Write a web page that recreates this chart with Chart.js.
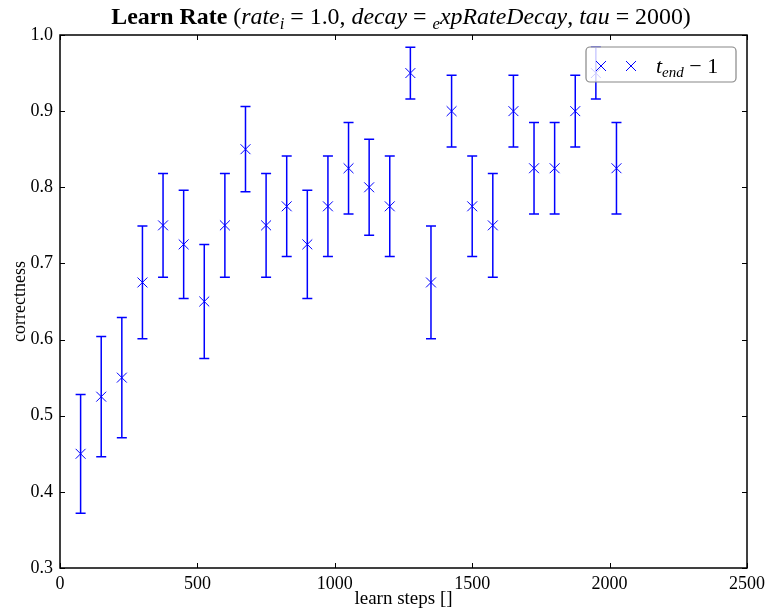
<!DOCTYPE html>
<html>
<head>
<meta charset="utf-8">
<script src="https://cdn.jsdelivr.net/npm/chart.js@4"></script>
<style>body{margin:0;background:#fff}</style>
</head>
<body>
<canvas id="chart" width="765" height="614"></canvas>
<script>
"use strict";

// data
const steps = [75, 150, 225, 300, 375, 450, 525, 600, 675, 750, 825, 900, 975, 1050,
  1125, 1200, 1275, 1350, 1425, 1500, 1575, 1650, 1725, 1800, 1875, 1950, 2025];
const correctness = [0.45, 0.525, 0.55, 0.675, 0.75, 0.725, 0.65, 0.75, 0.85, 0.75, 0.775,
  0.725, 0.775, 0.825, 0.8, 0.775, 0.95, 0.675, 0.9, 0.775, 0.75, 0.9, 0.825, 0.825,
  0.9, 0.95, 0.825];
const errLow = [0.372, 0.446, 0.471, 0.601, 0.682, 0.654, 0.575, 0.682, 0.794, 0.682, 0.709,
  0.654, 0.709, 0.765, 0.737, 0.709, 0.916, 0.601, 0.853, 0.709, 0.682, 0.853, 0.765, 0.765,
  0.853, 0.916, 0.765];
const errHigh = [0.528, 0.604, 0.629, 0.749, 0.818, 0.796, 0.725, 0.818, 0.906, 0.818, 0.841,
  0.796, 0.841, 0.885, 0.863, 0.841, 0.984, 0.749, 0.947, 0.841, 0.818, 0.947, 0.885, 0.885,
  0.947, 0.984, 0.885];
const xTicks = [0, 500, 1000, 1500, 2000, 2500];
const yTicks = [0.3, 0.4, 0.5, 0.6, 0.7, 0.8, 0.9, 1.0];

const BLUE = "#0000ff";
const SERIF = "'Liberation Serif', 'DejaVu Serif', serif";

//error bars under the markers
const errorBars = {
  id: "errorBars",
  beforeDatasetsDraw(chart) {
    const { ctx, scales: { x, y } } = chart;
    ctx.save();
    ctx.strokeStyle = BLUE;
    ctx.lineWidth = 1.5;
    steps.forEach((s, i) => {
      const px = x.getPixelForValue(s);
      const lo = y.getPixelForValue(errLow[i]);
      const hi = y.getPixelForValue(errHigh[i]);
      ctx.beginPath();
      ctx.moveTo(px, lo);
      ctx.lineTo(px, hi);
      ctx.moveTo(px - 5, lo);
      ctx.lineTo(px + 5, lo);
      ctx.moveTo(px - 5, hi);
      ctx.lineTo(px + 5, hi);
      ctx.stroke();
    });
    ctx.restore();
  },
};

function fontFor(p, size) {
  const sz = p.sub ? size * 0.7 : size;
  return (p.style === "italic" ? "italic " : p.style === "bold" ? "bold " : "") + sz + "px " + SERIF;
}

function richWidth(ctx, parts, size) {
  let w = 0;
  parts.forEach((p) => { ctx.font = fontFor(p, size); w += ctx.measureText(p.t).width; });
  return w;
}

function drawRich(ctx, parts, size, cx, baseline) {
  let xx = cx - richWidth(ctx, parts, size) / 2;
  parts.forEach((p) => {
    ctx.font = fontFor(p, size);
    ctx.fillText(p.t, xx, baseline + (p.sub ? size * 0.22 : 0));
    xx += ctx.measureText(p.t).width;
  });
}

//frame, inward ticks, title and legend
const decor = {
  id: "decor",
  afterDraw(chart) {
    const { ctx, chartArea: a, scales: { x, y } } = chart;
    ctx.save();
    ctx.strokeStyle = "#000";
    ctx.lineWidth = 1.5;
    ctx.strokeRect(a.left, a.top, a.right - a.left, a.bottom - a.top);
    ctx.lineWidth = 1;
    ctx.beginPath();
    xTicks.forEach((t) => {
      const px = Math.round(x.getPixelForValue(t)) + 0.5;
      ctx.moveTo(px, a.bottom); ctx.lineTo(px, a.bottom - 5);
      ctx.moveTo(px, a.top); ctx.lineTo(px, a.top + 5);
    });
    yTicks.forEach((t) => {
      const py = Math.round(y.getPixelForValue(t)) + 0.5;
      ctx.moveTo(a.left, py); ctx.lineTo(a.left + 5, py);
      ctx.moveTo(a.right, py); ctx.lineTo(a.right - 5, py);
    });
    ctx.stroke();

    // title
    ctx.fillStyle = "#000";
    ctx.textAlign = "left";
    ctx.textBaseline = "alphabetic";
    const title = [
      { t: "Learn Rate ", style: "bold" },
      { t: "(", style: "normal" },
      { t: "rate", style: "italic" },
      { t: "i", style: "italic", sub: true },
      { t: " = 1.0, ", style: "normal" },
      { t: "decay", style: "italic" },
      { t: " = ", style: "normal" },
      { t: "e", style: "italic", sub: true },
      { t: "xpRateDecay", style: "italic" },
      { t: ", ", style: "normal" },
      { t: "tau", style: "italic" },
      { t: " = 2000)", style: "normal" },
    ];
    const size = 20 * 580 / richWidth(ctx, title, 20);
    drawRich(ctx, title, size, 401, 24);

    // legend
    const lx = 586, ly = 47, lw = 150, lh = 35;
    ctx.fillStyle = "rgba(255,255,255,0.8)";
    ctx.strokeStyle = "#888";
    ctx.lineWidth = 1.2;
    ctx.beginPath();
    ctx.roundRect(lx, ly, lw, lh, 4);
    ctx.fill();
    ctx.stroke();
    ctx.strokeStyle = BLUE;
    ctx.lineWidth = 1;
    [601, 631].forEach((mx) => {
      ctx.beginPath();
      ctx.moveTo(mx - 5, 61); ctx.lineTo(mx + 5, 71);
      ctx.moveTo(mx - 5, 71); ctx.lineTo(mx + 5, 61);
      ctx.stroke();
    });
    ctx.fillStyle = "#000";
    ctx.font = "italic 22px " + SERIF;
    ctx.fillText("t", 656, 73);
    let tx = 656 + ctx.measureText("t").width;
    ctx.font = "italic 15px " + SERIF;
    ctx.fillText("end", tx, 77);
    tx += ctx.measureText("end").width;
    ctx.font = "22px " + SERIF;
    ctx.fillText(" \u2212 1", tx, 73);
    ctx.restore();
  },
};

new Chart(document.getElementById("chart"), {
  type: "scatter",
  data: {
    datasets: [
      {
        label: "t_end - 1",
        data: steps.map((s, i) => ({ x: s, y: correctness[i] })),
        pointStyle: "crossRot",
        pointRadius: 7,
        pointBorderWidth: 1,
        borderColor: BLUE,
        backgroundColor: BLUE,
        showLine: false,
      },
    ],
  },
  options: {
    responsive: false,
    devicePixelRatio: 1,
    animation: false,
    layout: { padding: { top: 35, right: 18, left: 0, bottom: 0 } },
    plugins: { legend: { display: false }, tooltip: { enabled: false } },
    scales: {
      x: {
        type: "linear",
        min: 0,
        max: 2500,
        afterBuildTicks: (s) => { s.ticks = xTicks.map((v) => ({ value: v })); },
        afterFit: (s) => { s.height = 46; s.paddingLeft = 0; s.paddingRight = 0; },
        grid: { display: false, drawTicks: false, tickLength: 0 },
        border: { display: false },
        ticks: { color: "#000", padding: 5, font: { family: SERIF, size: 18 }, maxRotation: 0,
          callback: (v) => String(v) },
        title: { display: true, text: "learn steps []", color: "#000", padding: { top: 0, bottom: 4 },
          font: { family: SERIF, size: 19 } },
      },
      y: {
        type: "linear",
        min: 0.3,
        max: 1.0,
        afterBuildTicks: (s) => { s.ticks = yTicks.map((v) => ({ value: v })); },
        afterFit: (s) => { s.width = 60; s.paddingTop = 0; s.paddingBottom = 0; },
        grid: { display: false, drawTicks: false, tickLength: 0 },
        border: { display: false },
        ticks: { color: "#000", padding: 7, font: { family: SERIF, size: 18 },
          callback: (v) => v.toFixed(1) },
        title: { display: true, text: "correctness", color: "#000", padding: { top: 9, bottom: 0 },
          font: { family: SERIF, size: 18 } },
      },
    },
  },
  plugins: [errorBars, decor],
});
</script>
</body>
</html>
